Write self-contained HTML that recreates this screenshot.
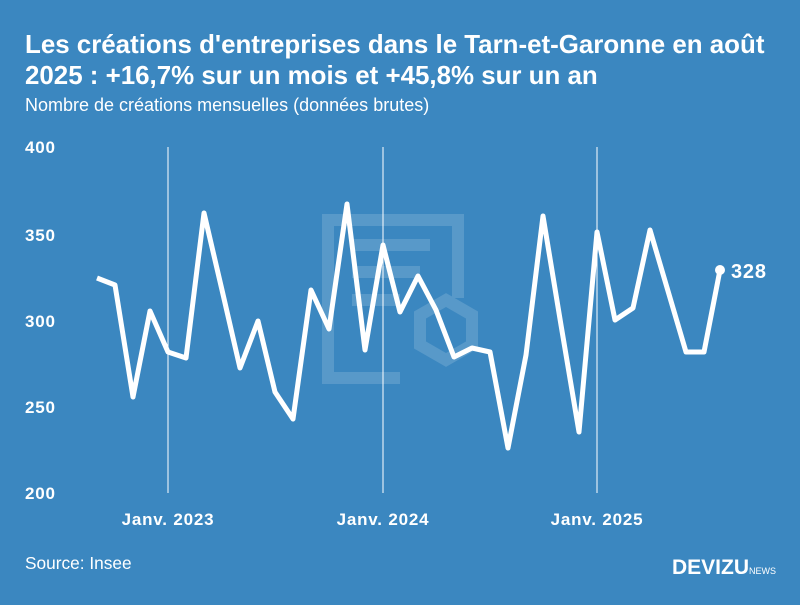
<!DOCTYPE html>
<html><head><meta charset="utf-8"><style>
body{margin:0;width:800px;height:600px;background:#3b87c0;font-family:"Liberation Sans",sans-serif;overflow:hidden}
</style></head><body>
<svg width="800" height="600" xmlns="http://www.w3.org/2000/svg" font-family="Liberation Sans, sans-serif">
<rect width="800" height="600" fill="#3b87c0"/>
<text x="25" y="53" fill="#fff" font-size="25.9" font-weight="bold">Les créations d'entreprises dans le Tarn-et-Garonne en août</text>
<text x="25" y="84" fill="#fff" font-size="25.9" font-weight="bold">2025 : +16,7% sur un mois et +45,8% sur un an</text>
<text x="25" y="111" fill="#fff" font-size="18">Nombre de créations mensuelles (données brutes)</text>
<g opacity="0.15" fill="none" stroke="#fff" stroke-width="12">
<path d="M400 378 H328 V220 H458 V298"/>
<path d="M352 245 H430 M352 272 H420 M352 300 H400"/>
<path d="M446 300 L472 315 V345 L446 360 L420 345 V315 Z"/>
</g>
<g stroke="#fff" stroke-width="1"><line x1="168" y1="147" x2="168" y2="493"/><line x1="383" y1="147" x2="383" y2="493"/><line x1="597" y1="147" x2="597" y2="493"/></g>
<g fill="#fff" font-size="17" font-weight="bold" letter-spacing="0.8">
<text x="25" y="153">400</text><text x="25" y="241">350</text><text x="25" y="327">300</text><text x="25" y="413">250</text><text x="25" y="499">200</text>
<text x="168" y="525" text-anchor="middle">Janv. 2023</text><text x="383" y="525" text-anchor="middle">Janv. 2024</text><text x="597" y="525" text-anchor="middle">Janv. 2025</text>
</g>
<polyline fill="none" stroke="#fff" stroke-width="5" stroke-linejoin="round" points="97,278 115,285 133,397 150,311 168,352 186,358 204,213 222,290 240,368 258,321 275,392 293,419 311,290 329,329 347,204 365,350 383,245 400,312 418,276 436,310 454,357 472,348 490,352 508,448 526,355 543,216 561,325 579,432 597,232 615,320 633,308 650,230 668,291 686,352 704,352 720,270"/>
<circle cx="720" cy="270" r="5" fill="#fff"/>
<text x="731" y="278" fill="#fff" font-size="20" font-weight="bold" letter-spacing="0.8">328</text>
<text x="25" y="569" fill="#fff" font-size="17.3">Source: Insee</text>
<text x="672" y="574" fill="#fff" font-size="21" font-weight="bold">DEVIZU</text>
<text x="749" y="574" fill="#fff" font-size="9">NEWS</text>
</svg>
</body></html>
